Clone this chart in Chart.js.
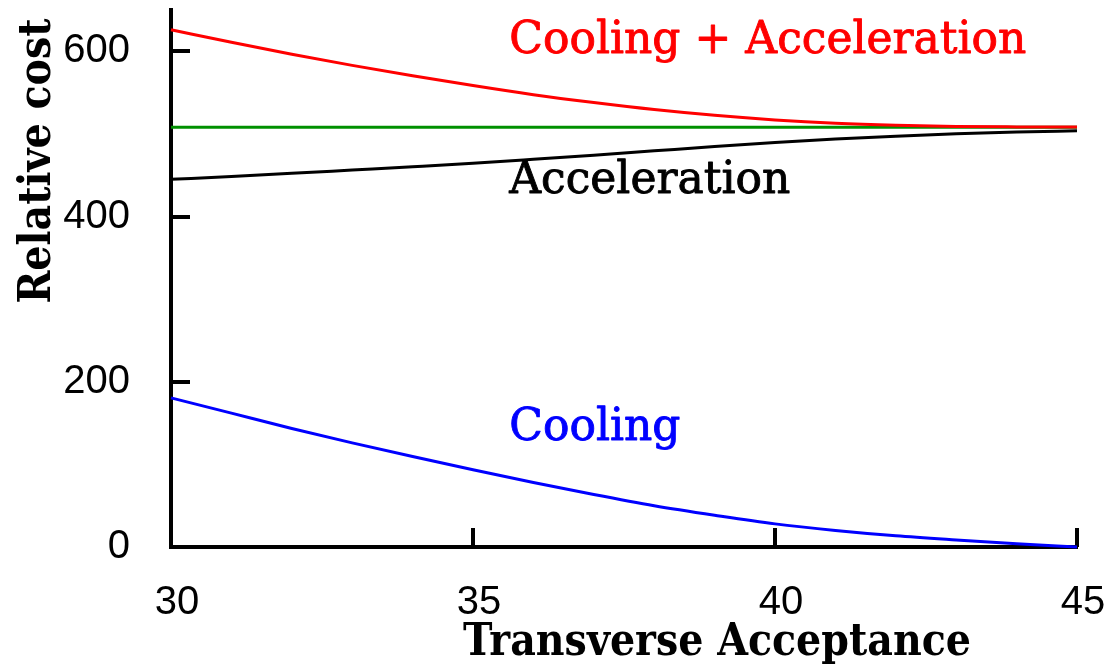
<!DOCTYPE html>
<html>
<head>
<meta charset="utf-8">
<title>Relative cost vs transverse acceptance</title>
<script src="https://cdn.jsdelivr.net/npm/chart.js@4.4.1/dist/chart.umd.min.js"></script>
<style>
  html, body { margin: 0; padding: 0; background: #ffffff; }
  #wrap { width: 1109px; height: 664px; position: relative; }
  canvas { display: block; }
</style>
</head>
<body>
<div id="wrap"><canvas id="chart" width="1109" height="664"></canvas></div>
<script>
// Transverse acceptance sampled at each integer value
const acceptance = [30, 31, 32, 33, 34, 35, 36, 37, 38, 39, 40, 41, 42, 43, 44, 45];

// Relative cost of each subsystem
const coolingCost      = [180.5, 162, 143.5, 126, 109.5, 93.5, 78, 63.5, 50, 38.5, 28, 20, 13.5, 8.5, 4, 0];
const accelerationCost = [445, 448.5, 452.3, 456.3, 460.3, 464.5, 469.3, 474.3, 479.5, 484.7, 489.5, 493.8, 497.3, 500.2, 502.3, 503.8];
const combinedCost     = [626, 611, 596.5, 583, 570.5, 558.5, 547.5, 538, 529.5, 522.5, 517, 513, 510.5, 509, 508.5, 508.3];
const baselineCost     = [508, 508, 508, 508, 508, 508, 508, 508, 508, 508, 508, 508, 508, 508, 508, 508];

// Axis ticks
const xTickValues = [30, 35, 40, 45];
const yTickValues = [0, 200, 400, 600];

// Curve names written next to the curves (x, y in data units, y = text baseline)
const curveNames = [
  { text: 'Cooling + Acceleration', x: 35.6, y: 598, color: '#ff0000' },
  { text: 'Acceleration',           x: 35.6, y: 429, color: '#000000' },
  { text: 'Cooling',                x: 35.6, y: 129, color: '#0000ff' }
];

const xTitle = 'Transverse Acceptance';
const yTitle = 'Relative cost';

const toPoints = values => acceptance.map((a, i) => ({ x: a, y: values[i] }));

const TICK_FONT = { family: '"Liberation Sans", Arimo, Arial, sans-serif', size: 40 };
const TITLE_FONT = 'bold 44px "DejaVu Serif Condensed", "DejaVu Serif", serif';
const NAME_FONT = '44px "DejaVu Serif", serif';

// Inward tick marks, axis titles and curve names
const decorations = {
  id: 'decorations',
  beforeDatasetsDraw(chart) {
    const { ctx, chartArea, scales: { x, y } } = chart;
    ctx.save();
    ctx.strokeStyle = '#000000';
    ctx.lineWidth = 4;
    ctx.lineCap = 'butt';
    ctx.beginPath();
    x.ticks.forEach(t => {
      if (t.value === x.min) return;
      const px = Math.round(x.getPixelForValue(t.value));
      ctx.moveTo(px, chartArea.bottom);
      ctx.lineTo(px, chartArea.bottom - 19);
    });
    y.ticks.forEach(t => {
      if (t.value === y.min) return;
      const py = Math.round(y.getPixelForValue(t.value));
      ctx.moveTo(chartArea.left, py);
      ctx.lineTo(chartArea.left + 19, py);
    });
    ctx.stroke();
    ctx.restore();
  },
  afterDraw(chart) {
    const { ctx, chartArea, scales: { x, y } } = chart;
    ctx.save();
    // curve names, slightly emboldened
    ctx.font = NAME_FONT;
    ctx.textAlign = 'left';
    ctx.textBaseline = 'alphabetic';
    ctx.lineWidth = 0.9;
    ctx.lineJoin = 'round';
    curveNames.forEach(n => {
      const px = x.getPixelForValue(n.x);
      const py = y.getPixelForValue(n.y);
      ctx.fillStyle = n.color;
      ctx.strokeStyle = n.color;
      ctx.fillText(n.text, px, py);
      ctx.strokeText(n.text, px, py);
    });
    // axis titles
    ctx.fillStyle = '#000000';
    ctx.font = TITLE_FONT;
    ctx.textAlign = 'center';
    ctx.fillText(xTitle, chartArea.left + 546, chartArea.bottom + 108);
    ctx.translate(chartArea.left - 121, chartArea.top + 151);
    ctx.rotate(-Math.PI / 2);
    ctx.fillText(yTitle, 0, 0);
    ctx.restore();
  }
};

const lineStyle = color => ({
  borderColor: color,
  backgroundColor: color,
  borderWidth: 3,
  pointRadius: 0,
  pointHoverRadius: 0,
  fill: false,
  cubicInterpolationMode: 'monotone',
  clip: 6
});

new Chart(document.getElementById('chart'), {
  type: 'line',
  data: {
    datasets: [
      { label: 'Cooling + Acceleration', data: toPoints(combinedCost), ...lineStyle('#ff0000') },
      { label: 'Reference', data: toPoints(baselineCost), ...lineStyle('#009000') },
      { label: 'Acceleration', data: toPoints(accelerationCost), ...lineStyle('#000000') },
      { label: 'Cooling', data: toPoints(coolingCost), ...lineStyle('#0000ff') }
    ]
  },
  options: {
    responsive: false,
    animation: false,
    devicePixelRatio: 1,
    layout: { padding: { left: 0, right: 32, top: 10, bottom: 0 } },
    plugins: {
      legend: { display: false },
      tooltip: { enabled: false },
      title: { display: false }
    },
    scales: {
      x: {
        type: 'linear',
        min: 30,
        max: 45,
        afterBuildTicks: s => { s.ticks = xTickValues.map(v => ({ value: v })); },
        afterFit: s => { s.height = 117; s.paddingLeft = 0; s.paddingRight = 0; },
        grid: { display: false, drawTicks: false },
        border: { display: true, color: '#000000', width: 4 },
        ticks: { color: '#000000', font: TICK_FONT, padding: 32, labelOffset: 6, maxRotation: 0 }
      },
      y: {
        type: 'linear',
        min: 0,
        max: 650,
        afterBuildTicks: s => { s.ticks = yTickValues.map(v => ({ value: v })); },
        afterFit: s => { s.width = 171; s.paddingTop = 0; s.paddingBottom = 0; },
        grid: { display: false, drawTicks: false },
        border: { display: true, color: '#000000', width: 4 },
        ticks: { color: '#000000', font: TICK_FONT, padding: 41 }
      }
    }
  },
  plugins: [decorations]
});
</script>
</body>
</html>
